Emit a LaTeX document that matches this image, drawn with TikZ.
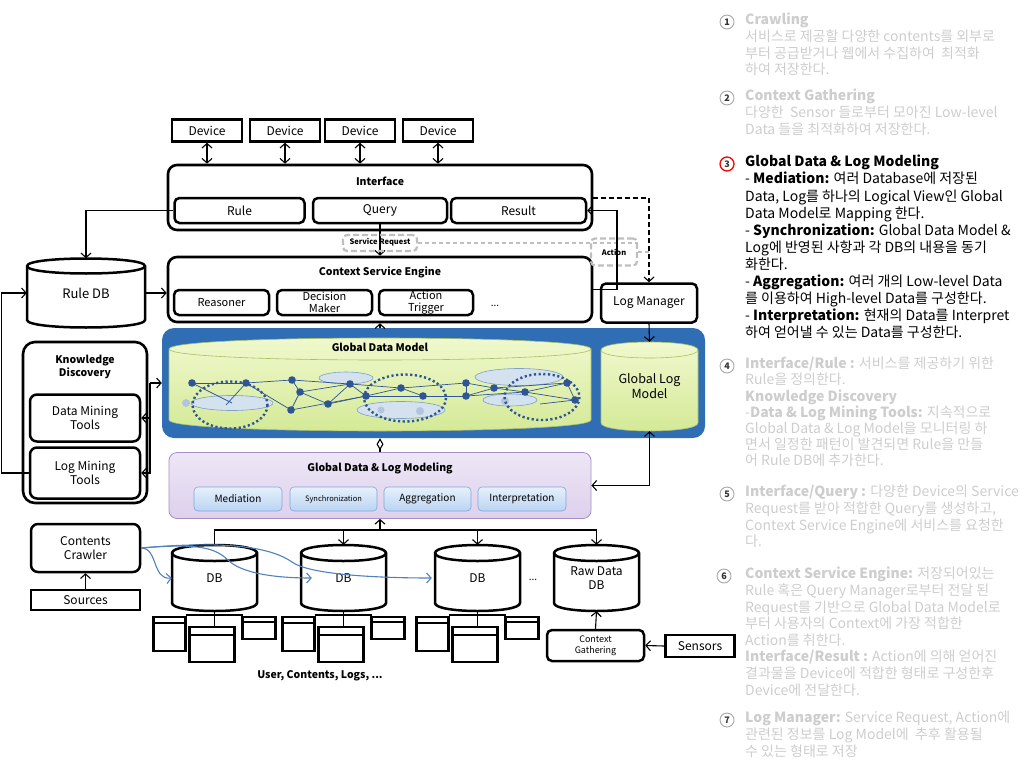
\documentclass[tikz,border=0pt]{standalone}
\usepackage{fontspec}
\setmainfont{Noto Sans CJK KR}
\usetikzlibrary{arrows.meta}
\definecolor{gdmblue}{HTML}{2F6DB5}
\definecolor{greentop}{HTML}{F1F9CF}
\definecolor{greenbot}{HTML}{D3E995}
\definecolor{greenedge}{HTML}{A9BF6A}
\definecolor{netblue}{HTML}{2F5597}
\definecolor{blobfill}{HTML}{D3E2EE}
\definecolor{blobedge}{HTML}{7F9FC4}
\definecolor{lavtop}{HTML}{EEE7F6}
\definecolor{lavbot}{HTML}{DDD0EC}
\definecolor{lavedge}{HTML}{A58FC8}
\definecolor{subtop}{HTML}{E6F0FC}
\definecolor{subbot}{HTML}{BBD4F2}
\definecolor{subedge}{HTML}{7FA7DA}
\definecolor{dashgray}{HTML}{BFBFBF}
\definecolor{notegray}{HTML}{CDCDCD}
\definecolor{crawlblue}{HTML}{4F81BD}
% drum: body style, edge style, x1, x2, y of top rim, y of bottom rim, rim radius
\newcommand{\drum}[7]{%
  \path[#1] (#3,#5) -- (#3,#6) .. controls (#3,#6+1.333*#7) and (#4,#6+1.333*#7) .. (#4,#6)
    -- (#4,#5) .. controls (#4,#5-1.333*#7) and (#3,#5-1.333*#7) .. (#3,#5) -- cycle;
  \draw[#2] (#3,#5) .. controls (#3,#5+1.333*#7) and (#4,#5+1.333*#7) .. (#4,#5);}
\begin{document}
\begin{tikzpicture}[x=1pt,y=-1pt,>={Straight Barb[length=4.5pt,width=10pt]},
  every node/.style={inner sep=0pt,align=center},
  sq/.style={draw,line width=2.5pt,font=\fontsize{12}{14}\selectfont},
  rnd/.style={sq,rounded corners=5pt},
  big/.style={draw,line width=2.6pt,rounded corners=9pt},
  hdr/.style={font=\bfseries\fontsize{10.5}{12.5}\selectfont},
  link/.style={line width=1.1pt},
  pastel/.style={draw=subedge,line width=0.6pt,rounded corners=4pt,top color=subtop,bottom color=subbot},
  gdash/.style={draw=dashgray,line width=2.2pt,dash pattern=on 6pt off 3pt,rounded corners=4pt},
  gline/.style={dashgray,line width=1.1pt,dash pattern=on 4pt off 3pt},
  crawl/.style={crawlblue,line width=1.1pt},
  netline/.style={netblue,line width=0.7pt},
  note/.style={anchor=north west,align=left,font=\fontsize{14}{16.7}\selectfont,text=notegray},
  badge/.style={circle,draw=black!35,line width=0.9pt,minimum size=14pt,font=\bfseries\fontsize{9}{9}\selectfont,text=black!80}]
\useasboundingbox (0,0) rectangle (1024,768);

% devices
\node[sq,minimum width=70,minimum height=22] (dev1) at (207,130.5) {Device};
\node[sq,minimum width=70,minimum height=22] (dev2) at (285,130.5) {Device};
\node[sq,minimum width=70,minimum height=22] (dev3) at (360,130.5) {Device};
\node[sq,minimum width=70,minimum height=22] (dev4) at (438,130.5) {Device};

% interface
\node[big,minimum width=424,minimum height=65] (intf) at (380,197.5) {};
\node[hdr] (intfhdr) at (380,181) {Interface};
\node[rnd,minimum width=130,minimum height=25] (rule) at (239.5,210.5) {Rule};
\node[rnd,minimum width=134,minimum height=25] (query) at (380,210.5) {Query};
\node[rnd,minimum width=135,minimum height=25] (result) at (518.5,210.5) {Result};

% context service engine
\node[big,minimum width=424,minimum height=65] (cse) at (380,289.5) {};
\node[hdr] (csehdr) at (380,272) {Context Service Engine};
\node[rnd,minimum width=95,minimum height=25,font=\fontsize{11}{12}\selectfont] (reason) at (221.5,302.5) {Reasoner};
\node[rnd,minimum width=95,minimum height=25,font=\fontsize{11}{12}\selectfont] (decide) at (324.5,302.5) {Decision\\Maker};
\node[rnd,minimum width=94,minimum height=25,font=\fontsize{11}{12}\selectfont] (trigger) at (426,302.5) {Action\\Trigger};
\node (cdots) at (495,306) {...};
\node[rnd,minimum width=96,minimum height=39] (logm) at (649,303) {Log Manager};

% rule db
\drum{draw,line width=2.5pt,fill=white}{line width=2.5pt}{27}{145}{266}{320}{7.5}
\node[font=\fontsize{13}{15}\selectfont,minimum width=118,minimum height=69] (ruledb) at (86,293) {Rule DB};

% knowledge discovery
\node[big,rounded corners=12pt,minimum width=124,minimum height=161] (kd) at (85,422.5) {};
\node[hdr] (kdhdr) at (85,367) {Knowledge\\Discovery};
\node[rnd,rounded corners=7pt,minimum width=110,minimum height=47] (dmt) at (85,418) {Data Mining\\Tools};
\node[rnd,rounded corners=7pt,minimum width=110,minimum height=51] (lmt) at (85,473) {Log Mining\\Tools};

% global data model
\node[fill=gdmblue,rounded corners=12pt,minimum width=543,minimum height=110] (gdmbox) at (433.5,383) {};
\drum{draw=greenedge,line width=0.6pt,top color=greentop,bottom color=greenbot}{greenedge,line width=0.6pt}{169}{591}{349}{420}{11}
\node[hdr] (gdmhdr) at (380,347) {Global Data Model};
\drum{draw=greenedge,line width=0.6pt,top color=greentop,bottom color=greenbot}{greenedge,line width=0.6pt}{601}{698}{350}{423}{8}
\node[font=\fontsize{12.5}{15}\selectfont,minimum width=97,minimum height=89] (glm) at (649.5,386.5) {Global Log\\Model};

% network
\foreach \i/\x/\y in {1/192/383,2/246/383,3/292/380,4/300/392,5/291/410,6/328/404,7/350/384,8/366/396,
  9/401/388,10/423/396,11/466/383,12/466/396,13/494/388,14/525/392,15/567/383,16/575/400}
  \coordinate (p\i) at (\x,\y);
\filldraw[fill=blobfill,draw=blobedge,line width=0.6pt] (232,403) ellipse [x radius=41,y radius=7.5]
  (346,378) ellipse [x radius=27,y radius=6] (401,410) ellipse [x radius=44,y radius=8.5]
  (519,377) ellipse [x radius=44,y radius=8.5] (510,400) ellipse [x radius=27,y radius=6];
\fill[blobedge!60] (186,403) circle (4) (381,410) circle (3.5) (420,411) circle (4) (505,401) circle (4);
\foreach \a/\b in {1/2,2/3,2/5,3/4,3/7,4/5,4/6,4/7,5/8,6/8,7/8,7/9,8/9,8/10,9/10,9/11,10/12,11/12,11/13,12/13,12/14,13/14,14/15,14/16,15/16,13/15,6/7}
  \draw[netline] (p\a) -- (p\b);
\draw[netline] (p1) -- (232,403) (p2) -- (226,405) (p16) -- (540,404);
\draw[netblue,line width=2.4pt,dash pattern=on 2.2pt off 2.5pt] (230,405) ellipse [x radius=37.5,y radius=23.5]
  (405,398) ellipse [x radius=41,y radius=23.5] (542,397) ellipse [x radius=37.5,y radius=23];
\foreach \i in {1,...,16} \fill[netblue] (p\i) circle (3.8);

% global data & log modeling
\node[draw=lavedge,line width=0.8pt,rounded corners=8pt,top color=lavtop,bottom color=lavbot,minimum width=422,minimum height=66] (gdlm) at (380,485.5) {};
\node[hdr] (gdlmhdr) at (380,468) {Global Data \& Log Modeling};
\node[pastel,minimum width=88,minimum height=24,font=\fontsize{10}{12}\selectfont] (med) at (238,499) {Mediation};
\node[pastel,minimum width=87,minimum height=24,font=\fontsize{7.5}{9}\selectfont] (sync) at (333.5,499) {Synchronization};
\node[pastel,minimum width=87,minimum height=24,font=\fontsize{10}{12}\selectfont] (aggr) at (427.5,499) {Aggregation};
\node[pastel,minimum width=88,minimum height=24,font=\fontsize{10}{12}\selectfont] (interp) at (522,499) {Interpretation};

% sources and databases
\node[rnd,rounded corners=7pt,minimum width=109,minimum height=48] (crawler) at (85.5,548) {Contents\\Crawler};
\node[sq,minimum width=109,minimum height=20] (sources) at (85.5,600) {Sources};
\drum{draw,line width=2.5pt,fill=white}{line width=2.5pt}{172}{257}{553}{603}{8}
\node[font=\fontsize{12}{14}\selectfont,minimum width=85,minimum height=66] (db1) at (214.5,578) {DB};
\drum{draw,line width=2.5pt,fill=white}{line width=2.5pt}{301}{386}{553}{603}{8}
\node[font=\fontsize{12}{14}\selectfont,minimum width=85,minimum height=66] (db2) at (343.5,578) {DB};
\drum{draw,line width=2.5pt,fill=white}{line width=2.5pt}{435}{520}{553}{603}{8}
\node[font=\fontsize{12}{14}\selectfont,minimum width=85,minimum height=66] (db3) at (477.5,578) {DB};
\node (dbdots) at (533,580) {...};
\drum{draw,line width=2.5pt,fill=white}{line width=2.5pt}{554}{639}{553}{603}{8}
\node[font=\fontsize{12}{14}\selectfont,minimum width=85,minimum height=66] (raw) at (596.5,578) {Raw Data\\DB};
\node[rnd,minimum width=97,minimum height=31,font=\fontsize{9}{11}\selectfont] (cg) at (595.5,645.5) {Context\\Gathering};
\node[sq,minimum width=69,minimum height=22] (sens) at (700,646) {Sensors};
\node[hdr] (tables) at (320,676) {User, Contents, Logs, ...};
\foreach \c in {214.5,343.5,477.5}{
  \draw[link] (\c,611) -- (\c,627) (\c-29,615) -- (\c+28,615);
  \draw[line width=2.5pt,fill=white] (\c-61,617) rectangle (\c-29,651) (\c-25,627) rectangle (\c+20,662) (\c+28,617) rectangle (\c+61,639);
  \draw[line width=1.6pt] (\c-61,623) -- (\c-29,623) (\c-25,635) -- (\c+20,635) (\c+28,622) -- (\c+61,622);
}

% connectors
\foreach \d in {dev1,dev2,dev3,dev4} \draw[link,<->] (\d.south) -- (\d.south |- intf.north);
\draw[link,->] (query.south) -- (cse.north);
\node[gdash,minimum width=74,minimum height=16] (sreq) at (380,243) {};
\node[font=\bfseries\fontsize{7.5}{8}\selectfont] (sreqtxt) at (380,242) {Service Request};
\node[gdash,minimum width=46,minimum height=27] (act) at (614,252) {};
\node[font=\bfseries\fontsize{7.5}{8}\selectfont] (acttxt) at (614,252) {Action};
\coordinate (dashtop) at (649,198);
\coordinate (loopR) at (617,0);
\draw[gline] (sreq.east) -- (sreq.east -| act.east);
\draw[gline] (act.east) -- (act.east -| dashtop);
\draw[link,dash pattern=on 5pt off 3pt,->] (intf.east |- dashtop) -- (dashtop) -- (logm.north);
\draw[link,->] (cse.east) -- (cse.east -| loopR) |- (result.east);
\draw[link,->] (rule.west) -| (ruledb.north);
\draw[link,->] (ruledb.east) -- (ruledb.east -| cse.west);
\draw[link,->] (lmt.west) -- ++(-27,0) |- (ruledb.west);
\coordinate (kdbus) at (150,383);
\draw[link,->] (kdbus) -- (kdbus -| gdmbox.west);
\draw[link,->] (kdbus) |- (lmt.east);
\draw[link,->] (kdbus |- dmt.east) -- (dmt.east);
\draw[link,->] (cse.south |- gdmbox.north) -- (cse.south);
\draw[link,->] (logm.south) -- (glm.north);
\draw[link,{Diamond[open,length=12pt,width=7pt]}-] (gdlm.north |- gdmbox.south) -- (gdlm.north);
\draw[link,<->] (gdlm.east) -| (glm.south);
\coordinate (bus) at (0,530);
\draw[link] (db1.north) -- (db1.north |- bus) -- (raw.north |- bus);
\draw[link,->] (raw.north |- bus) -- (raw.north);
\draw[link,->] (db2.north |- bus) -- (db2.north);
\draw[link,->] (db3.north |- bus) -- (db3.north);
\draw[link,->] (gdlm.south |- bus) -- (gdlm.south);
\draw[link,->] (sources.north) -- (crawler.south);
\draw[link,->] (sens.west) -- (cg.east);
\draw[link,->] (cg.north) -- (raw.south);
\draw[crawl,->] (crawler.east) .. controls (158,548) and (152,580) .. (db1.west);
\draw[crawl,->] (crawler.east) .. controls (200,543) and (215,548) .. (228,560) .. controls (240,572) and (270,578) .. ([xshift=11pt]db2.west);
\draw[crawl,->] (crawler.east) .. controls (230,540) and (272,548) .. (292,562) .. controls (310,575) and (380,578) .. ([xshift=-3pt]db3.west);

% notes
\node[badge] (b1) at (727,22) {1};
\node[note] (t1) at (745,13) {\textbf{Crawling}\\서비스로 제공할 다양한 contents를 외부로\\부터 공급받거나 웹에서 수집하여 \ 최적화\\하여 저장한다.};
\node[badge] (b2) at (727,98) {2};
\node[note] (t2) at (745,89) {\textbf{Context Gathering}\\다양한 \ Sensor 들로부터 모아진 Low-level\\Data 들을 최적화하여 저장한다.};
\node[badge,draw=red,line width=1.3pt] (b3) at (727,164) {3};
\node[note,text=black,font=\fontsize{14}{17.1}\selectfont] (t3) at (745,155) {\textbf{Global Data \& Log Modeling}\\- \textbf{Mediation:} 여러 Database에 저장된\\Data, Log를 하나의 Logical View인 Global\\Data Model로 Mapping 한다.\\- \textbf{Synchronization:} Global Data Model \&\\Log에 반영된 사항과 각 DB의 내용을 동기\\화한다.\\- \textbf{Aggregation:} 여러 개의 Low-level Data\\를 이용하여 High-level Data를 구성한다.\\- \textbf{Interpretation:} 현재의 Data를 Interpret\\하여 얻어낼 수 있는 Data를 구성한다.};
\node[badge] (b4) at (727,366) {4};
\node[note,font=\fontsize{14}{16.2}\selectfont] (t4) at (745,357) {\textbf{Interface/Rule :} 서비스를 제공하기 위한\\Rule을 정의한다.\\\textbf{Knowledge Discovery}\\-\textbf{Data \& Log Mining Tools:} 지속적으로\\Global Data \& Log Model을 모니터링 하\\면서 일정한 패턴이 발견되면 Rule을 만들\\어 Rule DB에 추가한다.};
\node[badge] (b5) at (727,494) {5};
\node[note] (t5) at (745,485) {\textbf{Interface/Query :} 다양한 Device의 Service\\Request를 받아 적합한 Query를 생성하고,\\Context Service Engine에 서비스를 요청한\\다.};
\node[badge] (b6) at (724,576) {6};
\node[note,font=\fontsize{14}{16.6}\selectfont] (t6) at (745,567) {\textbf{Context Service Engine:} 저장되어있는\\Rule 혹은 Query Manager로부터 전달 된\\Request를 기반으로 Global Data Model로\\부터 사용자의 Context에 가장 적합한\\Action를 취한다.\\\textbf{Interface/Result :} Action에 의해 얻어진\\결과물을 Device에 적합한 형태로 구성한후\\Device에 전달한다.};
\node[badge] (b7) at (727,720) {7};
\node[note] (t7) at (745,711) {\textbf{Log Manager:} Service Request, Action에\\관련된 정보를 Log Model에 \ 추후 활용될\\수 있는 형태로 저장};
\end{tikzpicture}
\end{document}
